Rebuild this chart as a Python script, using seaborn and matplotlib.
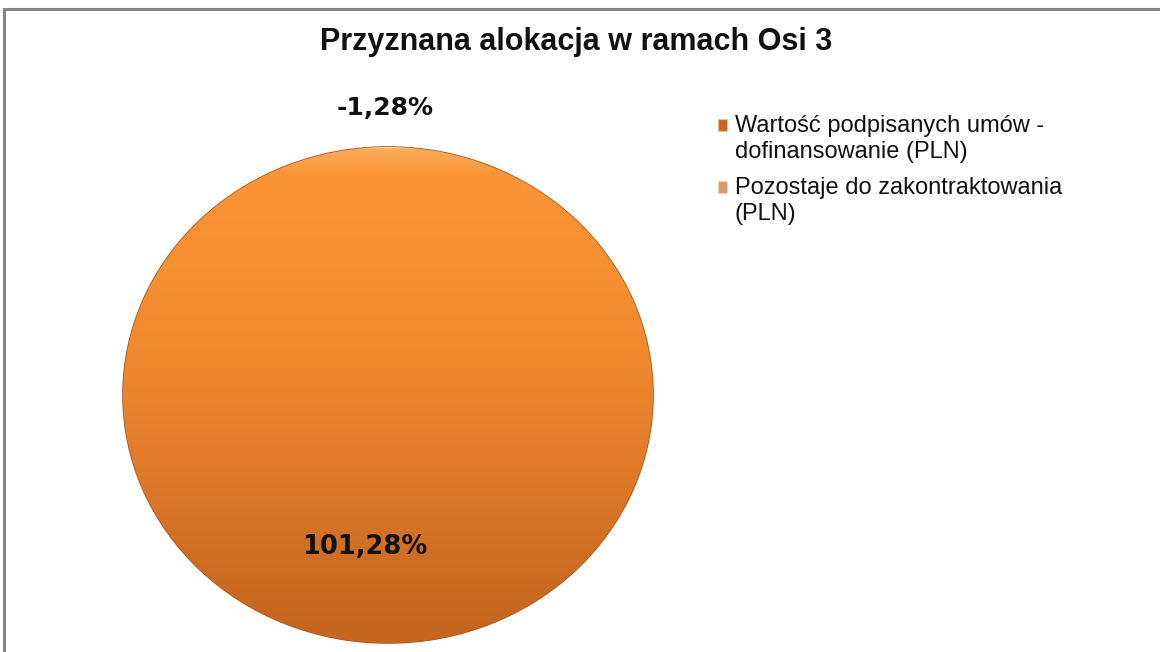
import numpy as np
import matplotlib
matplotlib.use("Agg")
import matplotlib.pyplot as plt
import seaborn as sns
from matplotlib.colors import LinearSegmentedColormap
from matplotlib.patches import Patch, Rectangle
from matplotlib.legend_handler import HandlerPatch

# ---- data ----
title = "Przyznana alokacja w ramach Osi 3"
categories = ["Wartość podpisanych umów -\ndofinansowanie (PLN)",
              "Pozostaje do zakontraktowania\n(PLN)"]
values = [101.28, -1.28]
value_labels = ["101,28%", "-1,28%"]

sns.set_theme(style="white")
plt.rcParams['font.family'] = ['Liberation Sans', 'DejaVu Sans']

W, H = 1160, 652
fig = plt.figure(figsize=(W / 100, H / 100), dpi=100)
fig.patch.set_facecolor("white")

# outer frame (left and top visible, runs off right/bottom)
fig.patches.append(Rectangle((4 / W, -0.2), 1.3, (H - 9) / H + 0.2,
                             transform=fig.transFigure, fill=False,
                             edgecolor="#858585", linewidth=2.2, clip_on=False))

# pie axes: ellipse x 123..653, y 147..643 (image coords)
left, right, top, bottom = 123, 653, 147, 643
ax = fig.add_axes([left / W, (H - bottom) / H, (right - left) / W, (bottom - top) / H])

palette = ["#e07a27", "#d49a76"]
draw_vals = np.clip(np.array(values), 0, None)
wedges, _ = ax.pie(draw_vals, colors=palette, startangle=90,
                   counterclock=False, radius=1,
                   wedgeprops=dict(edgecolor="#a9561a", linewidth=1.2))
ax.set_aspect("auto")
ax.axis("off")

# vertical gradient fill clipped to the wedge(s)
cmap = LinearSegmentedColormap.from_list(
    "og", ["#fde0a8", "#fb9536", "#f78f33", "#ef892e", "#e27c2a", "#d06f24", "#c4661f"],
    N=256)
grad = np.concatenate([[0], np.linspace(0.12, 1, 399)]).reshape(-1, 1)
for w in wedges:
    if w.theta2 - w.theta1 > 0:
        im = ax.imshow(grad, extent=(-1, 1, -1, 1), cmap=cmap, aspect="auto",
                       origin="upper", zorder=w.get_zorder() + 0.1,
                       interpolation="bilinear")
        im.set_clip_path(w)
ax.set_xlim(-1, 1)
ax.set_ylim(-1, 1)

# value labels
ax.text(-0.01, 1.157, value_labels[1], ha="center", va="center",
        fontsize=18, fontweight="bold", family=["DejaVu Sans"], color="#111111",
        clip_on=False)
ax.text(-0.087, -0.613, value_labels[0], ha="center", va="center",
        fontsize=18.5, fontweight="bold", family=["DejaVu Sans"], color="#111111",
        zorder=10)

# title
fig.text(576 / W, 1 - 42 / H, title, ha="center", va="center",
         fontsize=22, fontweight="bold", color="#111111")


# legend with markers aligned to the first text line
class TopPatchHandler(HandlerPatch):
    def create_artists(self, legend, orig_handle, xdescent, ydescent,
                       width, height, fontsize, trans):
        shift = 0.6 * fontsize
        p = Rectangle((-xdescent, -ydescent + shift), width, height,
                      facecolor=orig_handle.get_facecolor(),
                      edgecolor=orig_handle.get_edgecolor(),
                      linewidth=orig_handle.get_linewidth())
        p.set_transform(trans)
        return [p]


LEG_FS = 17
handles = [Patch(facecolor="#c8661e", edgecolor="#e8c0a0", linewidth=0.8),
           Patch(facecolor="#d99a72", edgecolor="#f0d0b8", linewidth=0.8)]
leg = fig.legend(handles, categories, loc="upper left",
                 bbox_to_anchor=(718 / W, 1 - 115 / H), frameon=False,
                 fontsize=LEG_FS, handlelength=0.4, handleheight=0.4,
                 handletextpad=0.3, labelspacing=0.57, borderaxespad=0,
                 borderpad=0,
                 handler_map={Patch: TopPatchHandler()})
for t in leg.get_texts():
    t.set_color("#111111")
    t.set_linespacing(1.25)

fig.savefig("out.png", dpi=100, facecolor="white")
